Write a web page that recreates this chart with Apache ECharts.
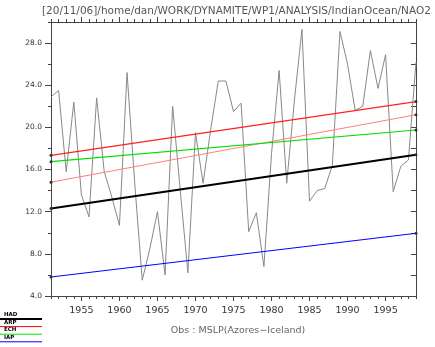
<!DOCTYPE html>
<html>
<head>
<meta charset="utf-8">
<script src="https://cdn.jsdelivr.net/npm/echarts@6/dist/echarts.min.js"></script>
<style>html,body{margin:0;padding:0;background:#fff}#c{width:435px;height:347px}</style>
</head>
<body>
<div id="c"></div>
<script>
const years = [];
for (let y = 1951; y <= 1999; y++) years.push(y);
const obsValues = [22.9, 23.5, 15.8, 22.4, 13.6, 11.5, 22.8, 15.8, 13.4, 10.7,
  25.2, 14.8, 5.5, 8.5, 12.0, 6.0, 22.0, 14.0, 6.2, 19.5,
  14.7, 19.8, 24.4, 24.4, 21.5, 22.3, 10.1, 11.9, 6.8, 17.5,
  25.4, 14.7, 22.5, 29.3, 13.0, 14.0, 14.2, 16.4, 29.1, 26.0,
  21.6, 22.0, 27.3, 23.7, 26.9, 13.9, 16.3, 16.9, 26.2];
const trendYears = [1951, 1999];
const hadTrend = [12.3, 17.4];
const arpTrend = [17.35, 22.45];
const echTrend = [16.75, 19.75];
const extraTrend = [14.8, 21.2];
const iapTrend = [5.8, 9.95];
const xLabelValues = [1955, 1960, 1965, 1970, 1975, 1980, 1985, 1990, 1995];
const yLabelValues = [4, 8, 12, 16, 20, 24, 28];
const legendNames = ['HAD', 'ARP', 'ECH', 'IAP'];
const legendColors = ['#000000', '#ff0000', '#00e000', '#0000ff'];

const pair = (xs, ys) => xs.map((x, i) => [x, ys[i]]);
const axisColor = '#444';

function trend(vals, color, width) {
  return {
    type: 'line', data: pair(trendYears, vals), silent: true,
    symbol: 'circle', symbolSize: 3,
    itemStyle: { color: '#333' },
    lineStyle: { color: color, width: width },
    z: 3
  };
}

const chart = echarts.init(document.getElementById('c'), null, { renderer: 'canvas' });
const baseX = { type: 'value', min: 1951, max: 1999, splitLine: { show: false } };
const baseY = { type: 'value', min: 4, max: 30, splitLine: { show: false } };
const graphics = [];
legendNames.forEach((n, i) => {
  const y = 319 + i * 7.6;
  graphics.push({ type: 'line', shape: { x1: 0, y1: y, x2: 42, y2: y },
    style: { stroke: legendColors[i], lineWidth: i === 0 ? 2 : 1 } });
  graphics.push({ type: 'text', x: 4, y: y - 1.5,
    style: { text: n, fill: '#000', font: 'bold 5.5px DejaVu Sans', textAlign: 'left', textVerticalAlign: 'bottom' } });
});

chart.setOption({
  animation: false,
  backgroundColor: '#fff',
  title: [
    { text: '[20/11/06]/home/dan/WORK/DYNAMITE/WP1/ANALYSIS/IndianOcean/NAO2', left: 37, top: 1,
      textStyle: { fontFamily: 'DejaVu Sans', fontSize: 10.5, fontWeight: 'normal', color: '#555' } },
    { text: 'Obs : MSLP(Azores\u2212Iceland)', left: 233, top: 321, textAlign: 'center',
      textStyle: { fontFamily: 'DejaVu Sans', fontSize: 9.5, fontWeight: 'normal', color: '#666' } }
  ],
  grid: { left: 51, right: 19, top: 22, bottom: 51, containLabel: false },
  xAxis: [
    Object.assign({}, baseX, { position: 'bottom', interval: 1,
      axisLine: { show: true, lineStyle: { color: axisColor, width: 1 } },
      axisTick: { show: true, length: 3, lineStyle: { color: axisColor } },
      axisLabel: { show: false } }),
    Object.assign({}, baseX, { position: 'bottom',
      axisLine: { show: false },
      axisTick: { show: true, length: 5, customValues: xLabelValues, lineStyle: { color: axisColor } },
      axisLabel: { show: true, customValues: xLabelValues, margin: 10, color: '#333',
        fontFamily: 'DejaVu Sans', fontSize: 9.5, formatter: v => String(v) } }),
    Object.assign({}, baseX, { position: 'top', interval: 1,
      axisLine: { show: true, lineStyle: { color: axisColor, width: 1 } },
      axisTick: { show: true, length: 3, lineStyle: { color: axisColor } },
      axisLabel: { show: false } }),
    Object.assign({}, baseX, { position: 'top',
      axisLine: { show: false },
      axisTick: { show: true, length: 5, customValues: xLabelValues, lineStyle: { color: axisColor } },
      axisLabel: { show: false } })
  ],
  yAxis: [
    Object.assign({}, baseY, { position: 'left', interval: 2,
      axisLine: { show: true, lineStyle: { color: axisColor, width: 1 } },
      axisTick: { show: true, length: 3, lineStyle: { color: axisColor } },
      axisLabel: { show: false } }),
    Object.assign({}, baseY, { position: 'left',
      axisLine: { show: false },
      axisTick: { show: true, length: 6, customValues: yLabelValues, lineStyle: { color: axisColor } },
      axisLabel: { show: true, customValues: yLabelValues, margin: 9, color: '#333',
        fontFamily: 'DejaVu Sans', fontSize: 7.5, formatter: v => v.toFixed(1) } }),
    Object.assign({}, baseY, { position: 'right', interval: 2,
      axisLine: { show: true, lineStyle: { color: axisColor, width: 1 } },
      axisTick: { show: true, inside: true, length: 5, lineStyle: { color: axisColor } },
      axisLabel: { show: false } })
  ],
  series: [
    { type: 'line', data: pair(years, obsValues), symbol: 'none', silent: true,
      lineStyle: { color: '#888', width: 1 }, z: 2 },
    trend(extraTrend, '#ff8080', 1),
    trend(iapTrend, '#0000ff', 1),
    trend(echTrend, '#00e000', 1.2),
    trend(arpTrend, '#ff2020', 1.2),
    trend(hadTrend, '#000000', 2)
  ],
  graphic: graphics
});
</script>
</body>
</html>
